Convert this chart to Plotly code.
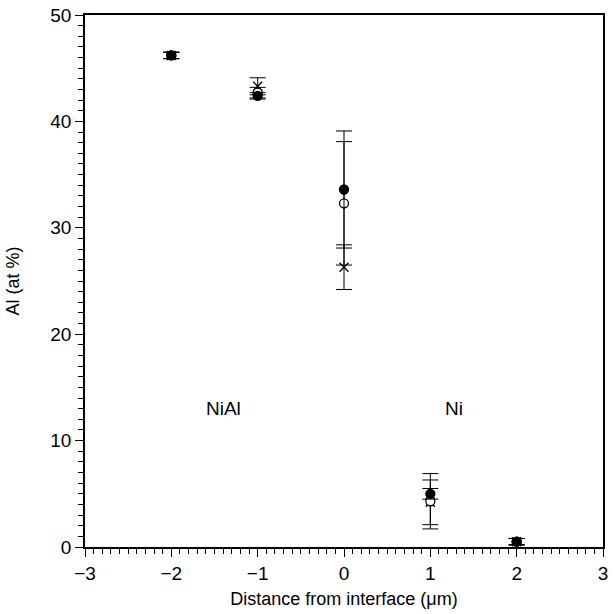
import plotly.graph_objects as go

# Data
x_pos = [-2, -1, 0, 1, 2]
filled_y = [46.2, 42.4, 33.6, 5.0, 0.5]
filled_err = [0.3, 0.3, 5.5, 0.5, 0.3]
open_y = [46.2, 42.7, 32.3, 4.3, 0.5]
open_err = [0.3, 0.5, 5.8, 2.6, 0.3]
cross_y = [46.2, 43.3, 26.3, 4.2, 0.5]
cross_err = [0.3, 0.8, 2.1, 2.1, 0.3]
labels = ["NiAl", "Ni"]
label_x = [-1.4, 1.27]
label_y = [13.0, 13.0]

font = "Liberation Sans, Arial, Helvetica, sans-serif"

fig = go.Figure()

def add_series(y, err, symbol, fill):
    fig.add_trace(go.Scatter(
        x=x_pos, y=y, mode="markers",
        marker=dict(symbol=symbol, size=9, color="black" if fill else "white",
                    line=dict(color="black", width=1.3)),
        error_y=dict(type="data", array=err, visible=True, color="black",
                     thickness=1, width=8),
        showlegend=False,
    ))

add_series(cross_y, cross_err, "x-thin-open", True)
add_series(open_y, open_err, "circle", False)
add_series(filled_y, filled_err, "circle", True)

for t, lx, ly in zip(labels, label_x, label_y):
    fig.add_annotation(x=lx, y=ly, text=t, showarrow=False,
                       font=dict(family=font, size=19, color="black"))

fig.update_layout(
    width=613, height=614,
    margin=dict(l=85, r=10, t=15, b=67, autoexpand=False),
    plot_bgcolor="white", paper_bgcolor="white",
    font=dict(family=font, size=19, color="black"),
)
fig.update_xaxes(
    range=[-3, 3], tickvals=[-3, -2, -1, 0, 1, 2, 3],
    ticktext=["\u22123", "\u22122", "\u22121", "0", "1", "2", "3"],
    showgrid=False, zeroline=False, showline=True, linecolor="black",
    linewidth=1.5, mirror=True, ticks="outside", ticklen=8, tickwidth=1.2,
    tickcolor="black", automargin=False,
    minor=dict(dtick=0.1, ticks="outside", ticklen=5, tickcolor="black", tickwidth=1),
    title=dict(text="Distance from interface (\u03bcm)", standoff=10,
               font=dict(family=font, size=18)),
)
fig.update_yaxes(
    range=[0, 50], dtick=10,
    showgrid=False, zeroline=False, showline=True, linecolor="black",
    linewidth=1.5, mirror=True, ticks="outside", ticklen=8, tickwidth=1.2,
    tickcolor="black", automargin=False,
    minor=dict(dtick=1, ticks="outside", ticklen=5, tickcolor="black", tickwidth=1),
    title=dict(text="Al (at %)", standoff=26, font=dict(family=font, size=18)),
)

fig.write_html(
    "out.html",
    config={"displayModeBar": False},
    post_script="document.body.style.margin='0';document.body.style.overflow='hidden';",
)
